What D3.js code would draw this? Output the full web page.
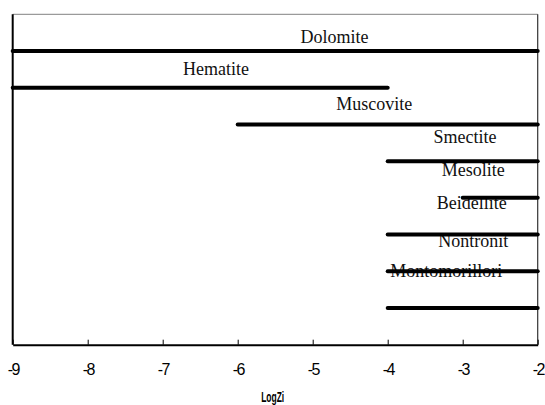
<html>
<head>
  <script src="https://d3js.org/d3.v7.min.js"></script>
  <style>
    body { margin: 0; background: #fff; }
  </style>
</head>
<body>
  <svg id="chart"></svg>
  <script>

  // mineral ranges on the LogZi axis (top to bottom)
  const minerals = ["Dolomite", "Hematite", "Muscovite", "Smectite", "Mesolite", "Beidellite", "Nontronit", "Montomorillori"];
  const logMin = [-9, -9, -6, -4, -3, -4, -4, -4];
  const logMax = [-2, -4, -2, -2, -2, -2, -2, -2];
  // where each data label sits (x in LogZi, y in row units)
  const labelX = [-4.71, -6.29, -4.18, -2.97, -2.86, -2.88, -2.86, -3.22];
  const labelRow = [0.77, 1.65, 2.62, 3.51, 4.41, 5.31, 6.34, 7.16];
  const xTicks = [-9, -8, -7, -6, -5, -4, -3, -2];

  const width = 545, height = 405;
  const margin = {top: 14.3, right: 7.3, bottom: 60.3, left: 12.7};

  const svg = d3.select("#chart")
    .attr("width", width)
    .attr("height", height);

  const x = d3.scaleLinear()
    .domain([-9, -2])
    .range([margin.left, width - margin.right]);

  const y = d3.scaleLinear()
    .domain([0, minerals.length + 1])
    .range([margin.top, height - margin.bottom]);

  const rows = minerals.map((m, i) => ({
    name: m, lo: logMin[i], hi: logMax[i], lx: labelX[i], ly: labelRow[i], row: i + 1
  }));

  // frame: grey top, thin right, heavier left
  svg.append("line")
    .attr("x1", x(-9)).attr("x2", x(-2))
    .attr("y1", y(0)).attr("y2", y(0))
    .attr("stroke", "#9a9a9a").attr("stroke-width", 1.2);
  svg.append("line")
    .attr("x1", x(-2)).attr("x2", x(-2))
    .attr("y1", y(0)).attr("y2", y(9))
    .attr("stroke", "#333").attr("stroke-width", 1.2);
  svg.append("line")
    .attr("x1", x(-9)).attr("x2", x(-9))
    .attr("y1", y(0)).attr("y2", y(9))
    .attr("stroke", "#000").attr("stroke-width", 2);

  // labels
  svg.selectAll("text.lbl")
    .data(rows)
    .join("text")
    .attr("class", "lbl")
    .attr("x", d => x(d.lx))
    .attr("y", d => y(d.ly))
    .attr("text-anchor", "middle")
    .attr("font-family", "'Liberation Serif', 'Times New Roman', serif")
    .attr("font-size", 18)
    .attr("fill", "#111")
    .text(d => d.name);

  // range bars
  svg.selectAll("line.bar")
    .data(rows)
    .join("line")
    .attr("class", "bar")
    .attr("x1", d => x(d.lo))
    .attr("x2", d => x(d.hi))
    .attr("y1", d => y(d.row))
    .attr("y2", d => y(d.row))
    .attr("stroke", "#000")
    .attr("stroke-width", 4)
    .attr("stroke-linecap", "round");

  // x axis
  const axis = svg.append("g")
    .attr("transform", "translate(0," + y(9) + ")")
    .call(d3.axisBottom(x)
      .tickValues(xTicks)
      .tickFormat(d => String(d))
      .tickSizeInner(-5)
      .tickSizeOuter(0)
      .tickPadding(19));
  axis.select(".domain").attr("stroke", "#000").attr("stroke-width", 2);
  axis.selectAll(".tick line").attr("stroke", "#000");
  axis.selectAll(".tick text")
    .attr("font-family", "'Liberation Sans', Arial, sans-serif")
    .attr("font-size", 16)
    .attr("letter-spacing", -1.6)
    .attr("fill", "#000");

  svg.append("text")
    .attr("x", (x(-9) + x(-2)) / 2 - 2.5)
    .attr("y", 402)
    .attr("text-anchor", "middle")
    .attr("font-family", "'Liberation Sans', Arial, sans-serif")
    .attr("font-weight", "bold")
    .attr("font-size", 15)
    .attr("textLength", 23)
    .attr("lengthAdjust", "spacingAndGlyphs")
    .text("LogZi");

  </script>
</body>
</html>
